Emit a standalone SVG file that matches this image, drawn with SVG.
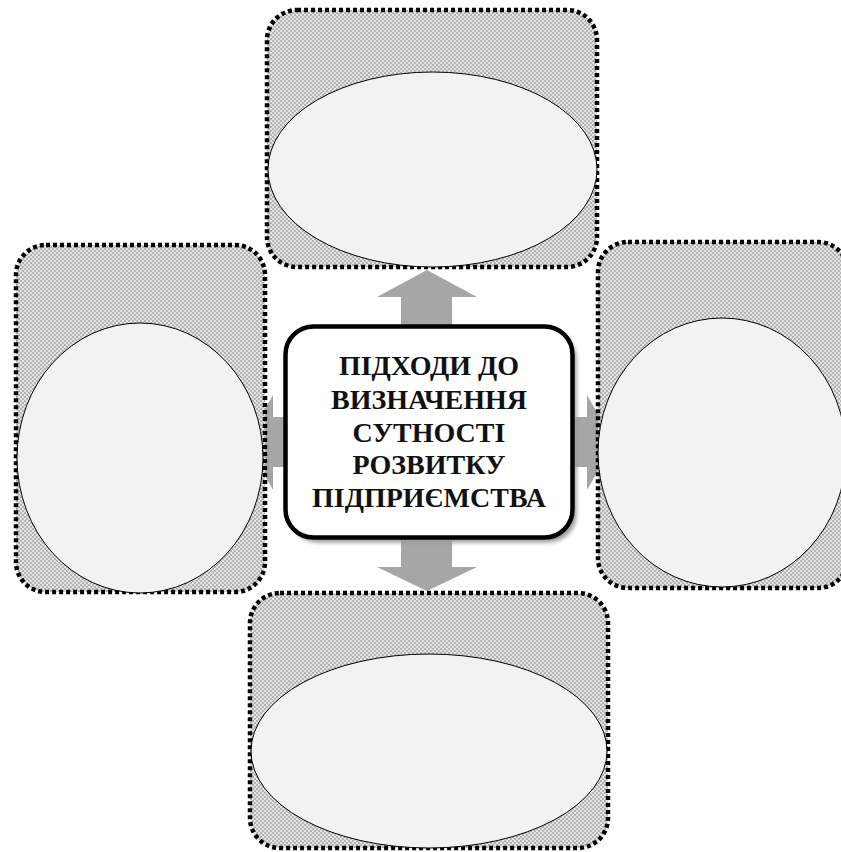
<svg xmlns="http://www.w3.org/2000/svg" width="841" height="852" viewBox="0 0 841 852">
  <defs>
    <pattern id="hatch" width="4" height="4" patternUnits="userSpaceOnUse">
      <rect width="4" height="4" fill="#e2e2e2"/>
      <rect x="0" y="0" width="2" height="2" fill="#b4b4b4"/>
      <rect x="2" y="2" width="2" height="2" fill="#b4b4b4"/>
    </pattern>
    <filter id="shadow" x="-10%" y="-10%" width="130%" height="130%">
      <feGaussianBlur stdDeviation="2"/>
    </filter>
  </defs>
  <style>
    .frame { fill: url(#hatch); stroke: #000; stroke-width: 4.5; stroke-dasharray: 4 3; }
    .oval { fill: #f2f2f2; stroke: #000; stroke-width: 1; }
    .arrow { fill: #a6a6a6; stroke: none; }
    .title { font-family: "Liberation Serif", "Times New Roman", serif; font-weight: bold; font-size: 28px; fill: #111; text-anchor: middle; }
  </style>
  <rect width="841" height="852" fill="#fff"/>

  <g id="connectors">
    <polygon class="arrow" points="427,270 477,297 452,297 452,326 401,326 401,297 377,297"/>
    <polygon class="arrow" points="401,537 452,537 452,567 477,567 427,591 377,567 401,567"/>
    <polygon class="arrow" points="246,442 273,395 273,417 287,417 287,467 273,467 273,490"/>
    <polygon class="arrow" points="575,417 587,417 587,395 614,442 587,490 587,467 575,467"/>
  </g>

  <g id="node-top">
    <rect class="frame" x="267" y="10" width="330" height="257" rx="30"/>
    <ellipse class="oval" cx="432.5" cy="169.5" rx="164.5" ry="97.5"/>
  </g>

  <g id="node-left">
    <rect class="frame" x="16" y="245" width="249" height="347" rx="30"/>
    <ellipse class="oval" cx="140" cy="458" rx="123" ry="135"/>
  </g>

  <g id="node-right">
    <rect class="frame" x="598" y="242" width="250" height="346" rx="30"/>
    <ellipse class="oval" cx="722" cy="452.5" rx="124" ry="134.5"/>
  </g>

  <g id="node-bottom">
    <rect class="frame" x="250" y="593" width="358" height="255" rx="30"/>
    <ellipse class="oval" cx="429" cy="751" rx="178" ry="97"/>
  </g>

  <g id="node-center">
    <rect x="289.5" y="331.5" width="287" height="211" rx="28" fill="#9a9a9a" filter="url(#shadow)"/>
    <rect x="285.5" y="326.5" width="287" height="211" rx="28" fill="#fff" stroke="#000" stroke-width="4.5"/>
    <text class="title" x="429" y="375">ПІДХОДИ ДО</text>
    <text class="title" x="429" y="409">ВИЗНАЧЕННЯ</text>
    <text class="title" x="429" y="442">СУТНОСТІ</text>
    <text class="title" x="429" y="474">РОЗВИТКУ</text>
    <text class="title" x="429" y="507">ПІДПРИЄМСТВА</text>
  </g>
</svg>
